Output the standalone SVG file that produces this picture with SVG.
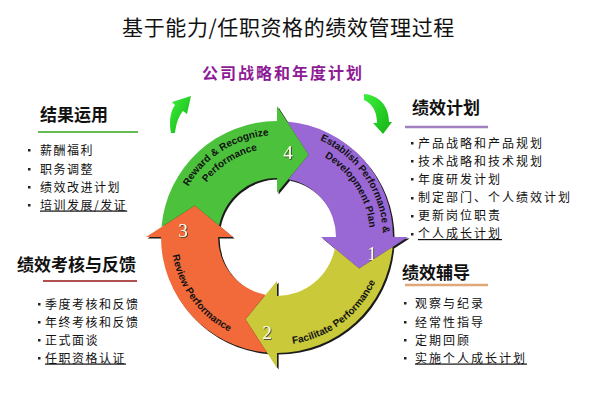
<svg xmlns="http://www.w3.org/2000/svg" xmlns:xlink="http://www.w3.org/1999/xlink" width="598" height="408" viewBox="0 0 598 408">
<style>
.title{font-family:"Noto Sans CJK SC","Liberation Sans",sans-serif;font-size:21px;fill:#111;letter-spacing:0.6px}
.sub{font-family:"Noto Sans CJK SC","Liberation Sans",sans-serif;font-size:16px;font-weight:700;fill:#8e1b96;letter-spacing:2px}
.hd{font-family:"Noto Sans CJK SC","Liberation Sans",sans-serif;font-size:17px;font-weight:700;fill:#111}
.it{font-family:"Noto Sans CJK SC","Liberation Sans",sans-serif;font-size:12px;fill:#111;letter-spacing:1.5px}
.ul{text-decoration:underline}
.arc{font-family:"Liberation Sans",Arial,sans-serif;font-size:10px;font-weight:700;fill:#111}
.num{font-family:"Liberation Serif","Times New Roman",serif;font-size:19px;fill:#fffde8;text-anchor:middle}
.dot{fill:#222}
</style>
<defs>
<path id="arrowShape" d="M286.97,121.43 A116,116 0 0,1 393,237 L408,237 L359.16,268.54 L321,237 L336,237 A59,59 0 0,0 288.47,179.13 L308.54,154.84 Z"/>
<path id="pG1" d="M179.72,206.33 A102,102 0 0,1 290.31,135.87"/>
<path id="pG2" d="M192.12,210.24 A89,89 0 0,1 288.62,148.76"/>
<path id="pP1" d="M306.22,135.11 A106,106 0 0,1 382.42,248.08"/>
<path id="pP2" d="M304.97,148.30 A93,93 0 0,1 369.20,249.14"/>
<path id="pY" d="M271.35,344.85 A108,108 0 0,0 382.23,261.29"/>
<path id="pO" d="M171.20,230.53 A106,106 0 0,0 252.25,340.07"/>
<filter id="blur" x="-10%" y="-10%" width="120%" height="120%"><feGaussianBlur stdDeviation="0.6"/></filter>
<filter id="numsh" x="-30%" y="-30%" width="160%" height="160%"><feDropShadow dx="0.8" dy="0.8" stdDeviation="0.4" flood-color="#333"/></filter>
<linearGradient id="gArrow" x1="0" y1="0" x2="1" y2="1">
<stop offset="0" stop-color="#3cf03c"/><stop offset="1" stop-color="#14b014"/>
</linearGradient>
</defs>

<g id="title">
<text class="title" x="288.5" y="35" text-anchor="middle">基于能力/任职资格的绩效管理过程</text>
</g>
<g id="strategy">
<text class="sub" x="283" y="79" text-anchor="middle">公司战略和年度计划</text>
</g>

<g id="small-arrows">
<path fill="url(#gArrow)" d="M171,133 C169,122 170,112 175,105 L172,102 L191,96 L187,114 L183,111 C178,117 176,125 175,133 Z"/>
<path fill="url(#gArrow)" d="M364,94 C378,95 389,105 389,122 L392,122 L383,134 L373,123 L377,123 C377,110 371,103 364,100 Z"/>
</g>

<g id="ring-shadow" transform="translate(1.6,1.6)" fill="#1a1a1a" filter="url(#blur)">
<use xlink:href="#arrowShape"/>
<use xlink:href="#arrowShape" transform="rotate(90 277 237)"/>
<use xlink:href="#arrowShape" transform="rotate(180 277 237)"/>
<use xlink:href="#arrowShape" transform="rotate(270 277 237)"/>
</g>

<g id="step-1">
<use xlink:href="#arrowShape" fill="#9a68d4"/>
<text class="arc"><textPath xlink:href="#pP1" startOffset="50%" text-anchor="middle">Establish Performance &amp;</textPath><textPath xlink:href="#pP2" startOffset="50%" text-anchor="middle">Development Plan</textPath></text>
<text class="num" x="372" y="259.5" filter="url(#numsh)">1</text>
</g>
<g id="step-2">
<use xlink:href="#arrowShape" transform="rotate(90 277 237)" fill="#c9c93a"/>
<text class="arc"><textPath xlink:href="#pY" startOffset="50%" text-anchor="middle">Facilitate Performance</textPath></text>
<text class="num" x="267" y="338.5" filter="url(#numsh)">2</text>
</g>
<g id="step-3">
<use xlink:href="#arrowShape" transform="rotate(180 277 237)" fill="#f26a3a"/>
<text class="arc"><textPath xlink:href="#pO" startOffset="50%" text-anchor="middle">Review Performance</textPath></text>
<text class="num" x="183" y="236.5" filter="url(#numsh)">3</text>
</g>
<g id="step-4">
<use xlink:href="#arrowShape" transform="rotate(270 277 237)" fill="#4cc23c"/>
<text class="arc"><textPath xlink:href="#pG1" startOffset="50%" text-anchor="middle">Reward &amp; Recognize</textPath><textPath xlink:href="#pG2" startOffset="50%" text-anchor="middle">Performance</textPath></text>
<text class="num" x="288" y="158.5" filter="url(#numsh)">4</text>
</g>

<g id="results">
<text class="hd" x="40" y="121">结果运用</text>
<line x1="38" y1="132" x2="138" y2="132" stroke="#66bb55" stroke-width="2"/>
<rect class="dot" x="28" y="149" width="2.5" height="2.5"/>
<rect class="dot" x="28" y="168" width="2.5" height="2.5"/>
<rect class="dot" x="28" y="186" width="2.5" height="2.5"/>
<rect class="dot" x="28" y="204" width="2.5" height="2.5"/>
<text class="it" x="40" y="154.5">薪酬福利</text>
<text class="it" x="40" y="173.5">职务调整</text>
<text class="it" x="40" y="191.5">绩效改进计划</text>
<text class="it ul" x="40" y="209.5">培训发展/发证</text>
</g>

<g id="review">
<text class="hd" x="17" y="271">绩效考核与反馈</text>
<line x1="43" y1="281" x2="137" y2="281" stroke="#b05050" stroke-width="2"/>
<rect class="dot" x="38" y="303" width="2.5" height="2.5"/>
<rect class="dot" x="38" y="321" width="2.5" height="2.5"/>
<rect class="dot" x="38" y="339" width="2.5" height="2.5"/>
<rect class="dot" x="38" y="357" width="2.5" height="2.5"/>
<text class="it" x="45" y="308.5">季度考核和反馈</text>
<text class="it" x="45" y="326.5">年终考核和反馈</text>
<text class="it" x="45" y="344.5">正式面谈</text>
<text class="it ul" x="45" y="362.5">任职资格认证</text>
</g>

<g id="plan">
<text class="hd" x="412" y="114">绩效计划</text>
<line x1="405" y1="127" x2="488" y2="127" stroke="#a080c0" stroke-width="2.5"/>
<rect class="dot" x="411" y="142" width="2.5" height="2.5"/>
<rect class="dot" x="411" y="160" width="2.5" height="2.5"/>
<rect class="dot" x="411" y="178" width="2.5" height="2.5"/>
<rect class="dot" x="411" y="197" width="2.5" height="2.5"/>
<rect class="dot" x="411" y="215" width="2.5" height="2.5"/>
<rect class="dot" x="411" y="233" width="2.5" height="2.5"/>
<text class="it" x="418" y="147.5" style="letter-spacing:2px">产品战略和产品规划</text>
<text class="it" x="418" y="165.5" style="letter-spacing:2px">技术战略和技术规划</text>
<text class="it" x="418" y="183.5" style="letter-spacing:2px">年度研发计划</text>
<text class="it" x="418" y="202" style="letter-spacing:2px">制定部门、个人绩效计划</text>
<text class="it" x="418" y="220" style="letter-spacing:2px">更新岗位职责</text>
<text class="it ul" x="418" y="238" style="letter-spacing:2px">个人成长计划</text>
</g>

<g id="coach">
<text class="hd" x="402" y="279">绩效辅导</text>
<line x1="405" y1="285" x2="488" y2="285" stroke="#e0a878" stroke-width="2.5"/>
<rect class="dot" x="404" y="302" width="2.5" height="2.5"/>
<rect class="dot" x="404" y="321" width="2.5" height="2.5"/>
<rect class="dot" x="404" y="339" width="2.5" height="2.5"/>
<rect class="dot" x="404" y="357" width="2.5" height="2.5"/>
<text class="it" x="415" y="307.5" style="letter-spacing:2px">观察与纪录</text>
<text class="it" x="415" y="326.5" style="letter-spacing:2px">经常性指导</text>
<text class="it" x="415" y="344.5" style="letter-spacing:2px">定期回顾</text>
<text class="it ul" x="415" y="362.5" style="letter-spacing:2px">实施个人成长计划</text>
</g>
</svg>
